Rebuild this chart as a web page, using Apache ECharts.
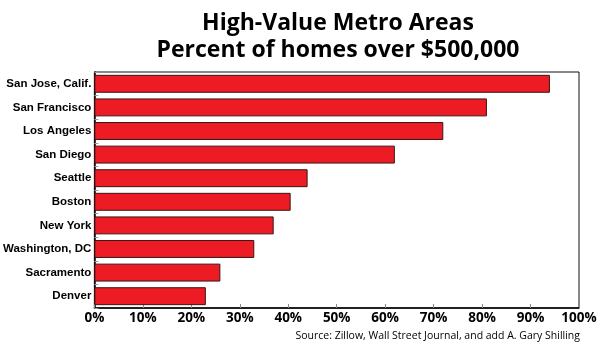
<!DOCTYPE html>
<html>
<head>
<meta charset="utf-8">
<script src="https://cdn.jsdelivr.net/npm/echarts@6/dist/echarts.min.js"></script>
<style>html,body{margin:0;padding:0;background:#fff;}#c{width:600px;height:351px;}</style>
</head>
<body>
<div id="c"></div>
<script>
const titleLines = ['High-Value Metro Areas', 'Percent of homes over $500,000'];
const cities = ['San Jose, Calif.', 'San Francisco', 'Los Angeles', 'San Diego', 'Seattle', 'Boston', 'New York', 'Washington, DC', 'Sacramento', 'Denver'];
const percents = [94, 81, 72, 62, 44, 40.5, 37, 33, 26, 23];
const sourceText = 'Source: Zillow, Wall Street Journal, and add A. Gary Shilling';

const chart = echarts.init(document.getElementById('c'), null, {renderer: 'canvas'});
chart.setOption({
  animation: false,
  backgroundColor: '#fff',
  title: {
    text: titleLines.join('\n'),
    left: 333, top: 5, textAlign: 'center',
    textStyle: {fontFamily: 'Open Sans', fontWeight: 'bold', fontSize: 23, lineHeight: 27, color: '#000'}
  },
  grid: {left: 94, right: 21, top: 72, bottom: 43, show: true, borderColor: '#111', borderWidth: 1, backgroundColor: '#fff'},
  xAxis: {
    type: 'value', min: 0, max: 100, interval: 10,
    axisLine: {show: true, lineStyle: {color: '#000', width: 1.5}},
    axisTick: {show: true, inside: true, length: 4, lineStyle: {color: '#888'}},
    splitLine: {show: false},
    axisLabel: {formatter: '{value}%', fontFamily: 'Open Sans', fontWeight: 'bold', fontSize: 13.5, color: '#000', margin: 3}
  },
  yAxis: {
    type: 'category', data: cities, inverse: true,
    axisLine: {show: true, lineStyle: {color: '#000', width: 1.5}},
    axisTick: {show: true, inside: true, length: 4, lineStyle: {color: '#999'}},
    axisLabel: {fontFamily: 'Liberation Sans', fontWeight: 'bold', fontSize: 11.5, color: '#000', margin: 3}
  },
  series: [{
    type: 'bar', data: percents, barWidth: '76%',
    itemStyle: {color: '#ED1C24', borderColor: '#3a1414', borderWidth: 1}
  }],
  graphic: [{
    type: 'text', right: 20, top: 331,
    style: {text: sourceText, fontFamily: 'Open Sans', fontSize: 10.5, fill: '#000'}
  }]
});
</script>
</body>
</html>
